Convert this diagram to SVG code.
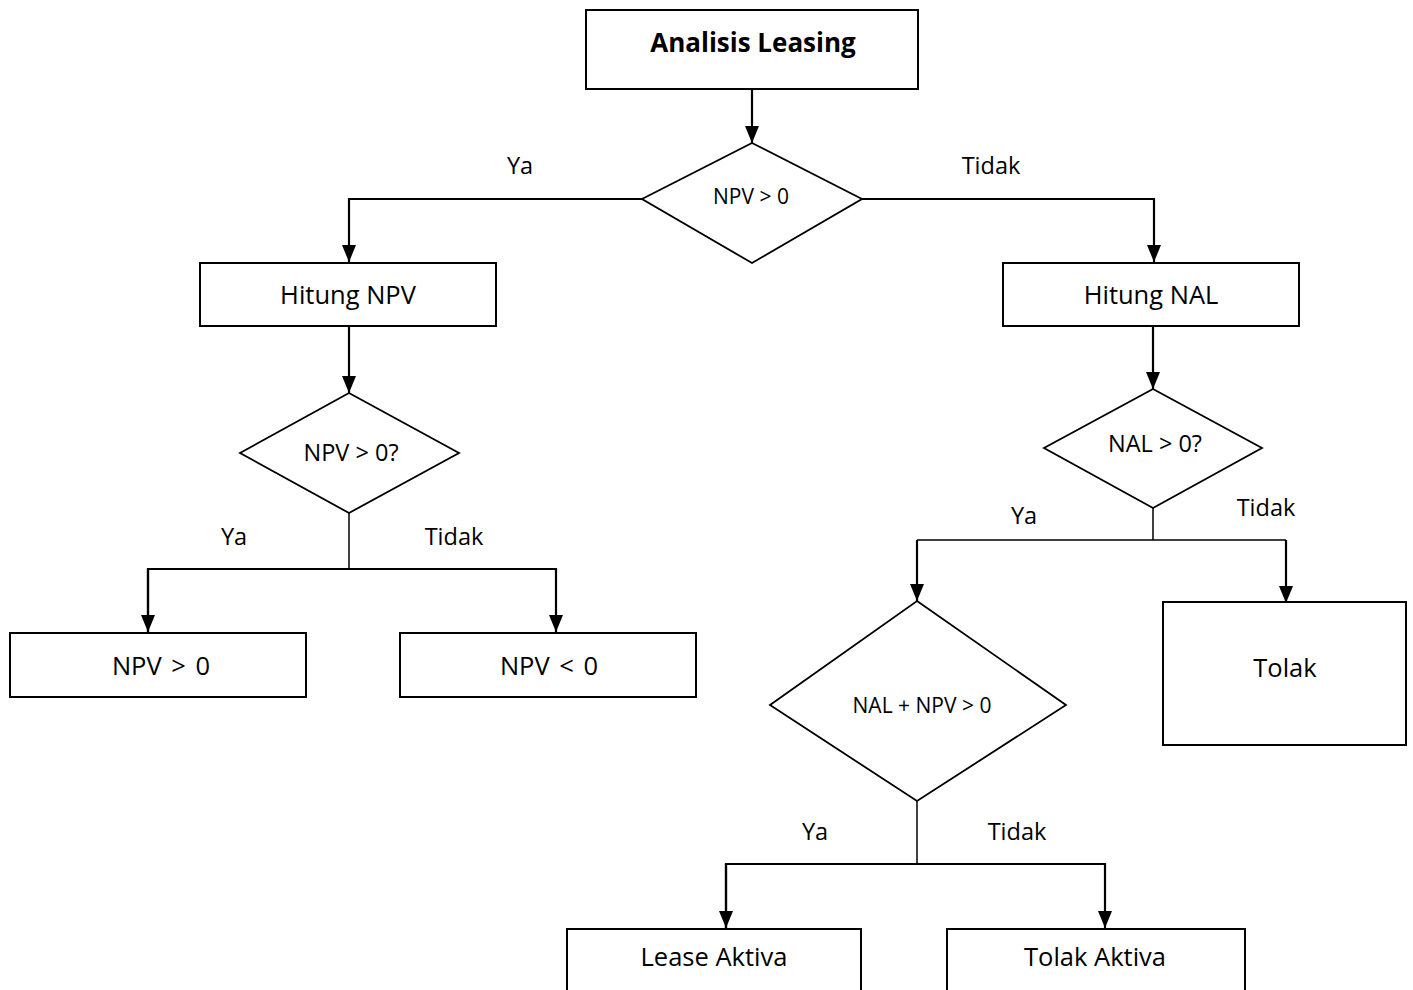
<svg xmlns="http://www.w3.org/2000/svg" width="1413" height="990" viewBox="0 0 1413 990">
<style>
.box{fill:#fff;stroke:#000;stroke-width:2}
.dia{fill:#fff;stroke:#000;stroke-width:1.8}
.ln{fill:none;stroke:#000;stroke-width:2.2}
.ln1{fill:none;stroke:#000;stroke-width:1.5}
text{font-family:"Open Sans","Noto Sans",sans-serif;fill:#000;text-anchor:middle}
.t24{font-size:25.5px}
.cmp{font-size:25.5px;word-spacing:3px}
.lbl{font-size:23.5px}
</style>
<defs>
<marker id="arr" markerUnits="userSpaceOnUse" markerWidth="18" markerHeight="16" refX="17" refY="8" orient="auto" viewBox="0 0 18 16">
<path d="M0,1 L17,8 L0,15 Z" fill="#000"/>
</marker>
</defs>
<rect width="1413" height="990" fill="#fff"/>
<g id="connectors">
<path class="ln" d="M752,89 V143" marker-end="url(#arr)"/>
<path class="ln" d="M643,199 H349 V262" marker-end="url(#arr)"/>
<path class="ln" d="M861,199 H1154 V262" marker-end="url(#arr)"/>
<path class="ln" d="M349,326 V393" marker-end="url(#arr)"/>
<path class="ln1" d="M349,513 V569"/>
<path class="ln" d="M148,632 V569 H556 V632" marker-end="url(#arr)"/>
<path class="ln" d="M148,569 V632" marker-end="url(#arr)"/>
<path class="ln" d="M1153,326 V389" marker-end="url(#arr)"/>
<path class="ln1" d="M1153,508 V540"/>
<path class="ln1" d="M917,540 H1286"/>
<path class="ln" d="M917,540 V601" marker-end="url(#arr)"/>
<path class="ln" d="M1286,540 V603" marker-end="url(#arr)"/>
<path class="ln1" d="M917,801 V864"/>
<path class="ln" d="M726,928 V864 H1105 V928" marker-end="url(#arr)"/>
<path class="ln" d="M726,864 V928" marker-end="url(#arr)"/>
</g>
<g id="node-analisis">
<rect class="box" x="586" y="10" width="332" height="79"/>
<text x="753" y="52" style="font-size:26px;font-weight:bold">Analisis Leasing</text>
</g>
<g id="node-d1">
<polygon class="dia" points="752,143 862,199 752,263 642,199"/>
<text x="751" y="204" style="font-size:21px">NPV &gt; 0</text>
</g>
<g id="node-hitung-npv">
<rect class="box" x="200" y="263" width="296" height="63"/>
<text class="t24" x="348" y="304">Hitung NPV</text>
</g>
<g id="node-d2">
<polygon class="dia" points="349,393 459,453 349,513 240,453"/>
<text x="351" y="461" style="font-size:23.5px">NPV &gt; 0?</text>
</g>
<g id="node-npv-pos">
<rect class="box" x="10" y="633" width="296" height="64"/>
<text class="cmp" x="161" y="675">NPV &gt; 0</text>
</g>
<g id="node-npv-neg">
<rect class="box" x="400" y="633" width="296" height="64"/>
<text class="cmp" x="549" y="675">NPV &lt; 0</text>
</g>
<g id="node-hitung-nal">
<rect class="box" x="1003" y="263" width="296" height="63"/>
<text class="t24" x="1151" y="304">Hitung NAL</text>
</g>
<g id="node-d3">
<polygon class="dia" points="1153,389 1262,448 1153,508 1044,448"/>
<text x="1155" y="452" style="font-size:23.5px">NAL &gt; 0?</text>
</g>
<g id="node-d4">
<polygon class="dia" points="917,601 1066,705 917,801 770,705"/>
<text x="922" y="713" style="font-size:21px">NAL + NPV &gt; 0</text>
</g>
<g id="node-tolak">
<rect class="box" x="1163" y="602" width="243" height="143"/>
<text class="t24" x="1285" y="677">Tolak</text>
</g>
<g id="node-lease">
<rect class="box" x="567" y="929" width="294" height="70"/>
<text class="t24" x="714" y="966">Lease Aktiva</text>
</g>
<g id="node-tolak-aktiva">
<rect class="box" x="947" y="929" width="298" height="70"/>
<text class="t24" x="1095" y="966">Tolak Aktiva</text>
</g>
<g id="labels">
<text class="lbl" x="520" y="174">Ya</text>
<text class="lbl" x="991" y="174">Tidak</text>
<text class="lbl" x="234" y="545">Ya</text>
<text class="lbl" x="454" y="545">Tidak</text>
<text class="lbl" x="1024" y="524">Ya</text>
<text class="lbl" x="1266" y="516">Tidak</text>
<text class="lbl" x="815" y="840">Ya</text>
<text class="lbl" x="1017" y="840">Tidak</text>
</g>
</svg>
